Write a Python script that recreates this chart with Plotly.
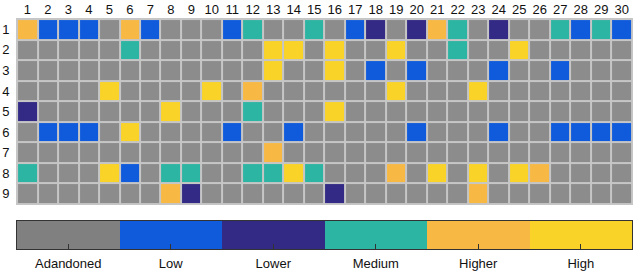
import plotly.graph_objects as go

# Level codes: 0 Adandoned, 1 Low, 2 Lower, 3 Medium, 4 Higher, 5 High
level_names = ["Adandoned", "Low", "Lower", "Medium", "Higher", "High"]
level_colors = ["#8c8c8c", "#0f5bdc", "#332a85", "#2db5a3", "#f8b944", "#f9d327"]
colorbar_colors = ["#808080", "#0f5bdc", "#332a85", "#2db5a3", "#f8b944", "#f9d327"]

columns = list(range(1, 31))
rows = list(range(1, 10))

row1 = [4,1,1,1,0,4,1,0,0,0,1,3,0,0,3,0,1,2,0,2,4,3,0,2,0,0,3,1,3,1]
row2 = [0,0,0,0,0,3,0,0,0,0,0,0,5,5,0,5,0,0,5,0,0,3,0,0,5,0,0,0,0,0]
row3 = [0,0,0,0,0,0,0,0,0,0,0,0,5,0,0,5,0,1,0,1,0,0,0,1,0,0,1,0,0,0]
row4 = [0,0,0,0,5,0,0,0,0,5,0,4,0,0,0,0,0,0,5,0,0,0,5,0,0,0,0,0,0,0]
row5 = [2,0,0,0,0,0,0,5,0,0,0,3,0,0,0,5,0,0,0,0,0,0,0,0,0,0,0,0,0,0]
row6 = [0,1,1,1,0,5,0,0,0,0,1,0,0,1,0,0,0,0,0,1,0,0,0,1,0,0,1,1,1,1]
row7 = [0,0,0,0,0,0,0,0,0,0,0,0,4,0,0,0,0,0,0,0,0,0,0,0,0,0,0,0,0,0]
row8 = [3,0,0,0,5,1,0,3,3,0,0,3,3,5,3,0,0,0,4,0,5,0,5,0,5,4,0,0,0,0]
row9 = [0,0,0,0,0,0,0,4,2,0,0,0,0,0,0,2,0,0,0,0,0,0,4,0,0,0,0,0,0,0]

grid = [row1, row2, row3, row4, row5, row6, row7, row8, row9]


def discrete_scale(colors):
    n = len(colors)
    scale = []
    for i, c in enumerate(colors):
        scale.append([i / n, c])
        scale.append([(i + 1) / n, c])
    return scale


fig = go.Figure()
fig.add_trace(go.Heatmap(
    z=grid, x=columns, y=rows,
    colorscale=discrete_scale(level_colors), zmin=-0.5, zmax=5.5,
    xgap=2, ygap=2, showscale=False, hoverinfo="skip",
    xaxis="x", yaxis="y",
))
fig.add_trace(go.Heatmap(
    z=[list(range(len(level_names)))], x=level_names, y=[0],
    colorscale=discrete_scale(colorbar_colors), zmin=-0.5, zmax=5.5,
    showscale=False, hoverinfo="skip",
    xaxis="x2", yaxis="y2",
))

H = 231.0
fig.update_layout(
    width=638, height=272, autosize=False,
    margin=dict(l=16, r=5, t=18, b=23),
    paper_bgcolor="white",
    plot_bgcolor="#c6c6c6",
    font=dict(family="Liberation Sans, Arial, sans-serif", size=13, color="#111"),
    xaxis=dict(domain=[0, 1], anchor="y", side="top", range=[0.45, 30.55],
               tickmode="array", tickvals=columns, ticktext=[str(c) for c in columns],
               showgrid=False, zeroline=False, ticks="", fixedrange=True,
               automargin=False),
    yaxis=dict(domain=[44 / H, 1], anchor="x", range=[9.55, 0.45],
               tickmode="array", tickvals=rows, ticktext=[str(r) for r in rows],
               showgrid=False, zeroline=False, ticks="outside", ticklen=3,
               tickcolor="rgba(0,0,0,0)", fixedrange=True, automargin=False),
    xaxis2=dict(domain=[1 / 617, 616 / 617], anchor="y2", range=[-0.5, 5.5],
                tickmode="array", tickvals=list(range(6)), ticktext=level_names,
                showgrid=False, zeroline=False, ticks="inside", ticklen=5,
                tickcolor="#333", tickwidth=1, ticklabelstandoff=2,
                showline=True, linecolor="#333", linewidth=1, mirror=True,
                tickfont=dict(size=13), fixedrange=True, automargin=False),
    yaxis2=dict(domain=[0, 28 / H], anchor="x2", range=[-0.5, 0.5],
                showticklabels=False, showgrid=False, zeroline=False,
                showline=True, linecolor="#333", linewidth=1, mirror=True,
                fixedrange=True, automargin=False),
)

fig.write_html("out.html", config={"responsive": False, "displayModeBar": False})

with open("out.html", "r", encoding="utf-8") as f:
    html = f.read()
html = html.replace(
    "<head>",
    "<head><style>html,body{margin:0;padding:0;overflow:hidden;}</style>",
    1,
)
with open("out.html", "w", encoding="utf-8") as f:
    f.write(html)
